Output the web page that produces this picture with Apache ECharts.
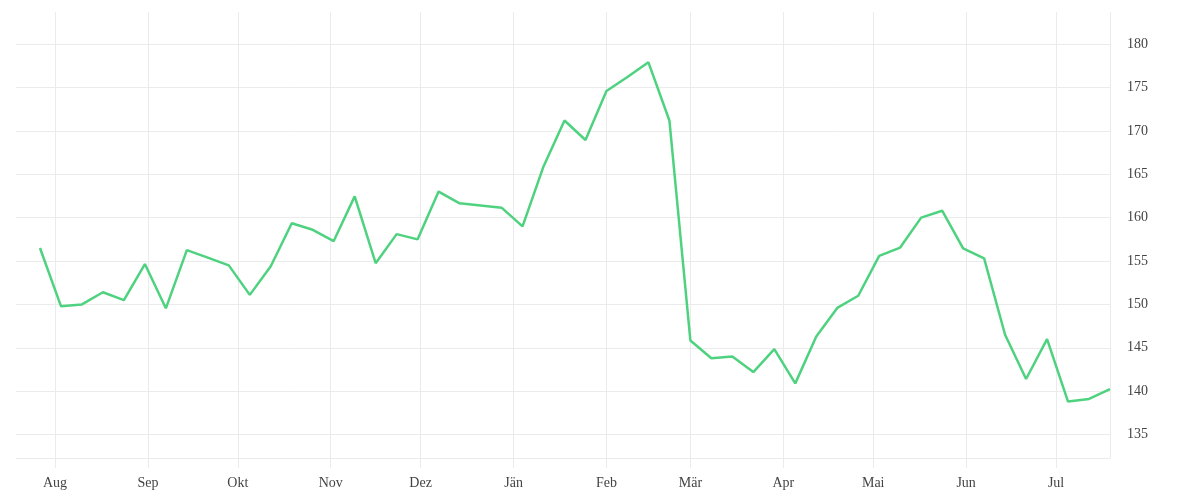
<!DOCTYPE html>
<html>
<head>
<meta charset="utf-8">
<script src="https://cdn.jsdelivr.net/npm/echarts@6/dist/echarts.min.js"></script>
<style>
html,body{margin:0;padding:0;background:#fff;}
#chart{width:1200px;height:500px;}
</style>
</head>
<body>
<div id="chart"></div>
<script>
var dates = [
 '2022-07-27','2022-08-03','2022-08-10','2022-08-17','2022-08-24','2022-08-31',
 '2022-09-07','2022-09-14','2022-09-21','2022-09-28',
 '2022-10-05','2022-10-12','2022-10-19','2022-10-26',
 '2022-11-02','2022-11-09','2022-11-16','2022-11-23','2022-11-30',
 '2022-12-07','2022-12-14','2022-12-21','2022-12-28',
 '2023-01-04','2023-01-11','2023-01-18','2023-01-25',
 '2023-02-01','2023-02-08','2023-02-15','2023-02-22',
 '2023-03-01','2023-03-08','2023-03-15','2023-03-22','2023-03-29',
 '2023-04-05','2023-04-12','2023-04-19','2023-04-26',
 '2023-05-03','2023-05-10','2023-05-17','2023-05-24','2023-05-31',
 '2023-06-07','2023-06-14','2023-06-21','2023-06-28',
 '2023-07-05','2023-07-12','2023-07-19'
];
var values = [
 156.5,149.8,150.0,151.4,150.5,154.65,
 149.55,156.25,155.4,154.5,
 151.1,154.4,159.35,158.6,
 157.3,162.45,154.75,158.1,157.5,
 163.0,161.65,161.4,161.15,
 159.0,165.9,171.2,168.95,
 174.6,176.2,177.9,171.2,
 145.85,143.8,144.0,142.2,144.85,
 140.9,146.3,149.6,151.0,
 155.6,156.55,160.0,160.8,156.45,
 155.3,146.5,141.4,146.0,
 138.8,139.1,140.25
];
var monthNames = ['Jän','Feb','Mär','Apr','Mai','Jun','Jul','Aug','Sep','Okt','Nov','Dez'];
var xMin = '2022-07-19';
var xMax = '2023-07-19';
var yMin = 132.3;
var yMax = 183.7;

var gridColor = '#ebebeb';
var splitColors = ['rgba(0,0,0,0)'];
for (var k = 0; k < 40; k++) splitColors.push(gridColor);

var chart = echarts.init(document.getElementById('chart'));
var DAY = 86400000;
chart.setOption({
  animation: false,
  grid: {left: 16, right: 90, top: 12, bottom: 42, containLabel: false},
  xAxis: {
    type: 'time',
    min: xMin,
    max: xMax,
    minInterval: 28 * DAY,
    maxInterval: 31 * DAY,
    axisLine: {show: true, lineStyle: {color: gridColor, width: 1}},
    axisTick: {show: true, length: 10, lineStyle: {color: gridColor}},
    splitLine: {show: true, lineStyle: {color: splitColors, width: 1}},
    axisLabel: {
      margin: 18,
      color: '#444',
      fontFamily: 'Liberation Serif',
      fontSize: 14,
      formatter: function (val) { return monthNames[new Date(val).getMonth()]; }
    }
  },
  yAxis: {
    type: 'value',
    position: 'right',
    min: yMin,
    max: yMax,
    splitNumber: 10,
    axisLine: {show: false},
    axisTick: {show: false},
    splitLine: {show: true, showMinLine: false, showMaxLine: false, lineStyle: {color: gridColor, width: 1}},
    axisLabel: {
      showMinLabel: false,
      showMaxLabel: false,
      margin: 17,
      color: '#444',
      fontFamily: 'Liberation Serif',
      fontSize: 14
    }
  },
  series: [{
    type: 'line',
    data: dates.map(function (d, i) { return [d, values[i]]; }),
    symbol: 'none',
    lineStyle: {color: '#4fd27f', width: 2.5},
    itemStyle: {color: '#4fd27f'}
  }]
});
</script>
</body>
</html>
